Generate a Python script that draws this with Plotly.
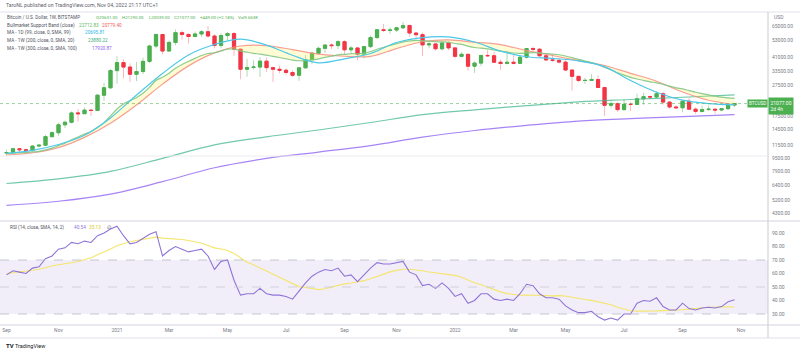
import plotly.graph_objects as go
import pandas as pd
import math

W, H = 800, 353
PW = 768  # plot area width (right price scale outside)

week0 = pd.Timestamp('2020-09-07')
N = 113
dates = [week0 + pd.Timedelta(days=7 * i) for i in range(N)]

opens = [10280,10330,10930,10780,10670,11370,11500,13030,13800,15480,
         16060,18400,18180,19150,19050,23800,26500,34000,38200,35800,
         32250,33550,38900,48600,57400,45200,51200,59000,57500,55800,
         57900,59800,56200,49000,56600,58200,46400,34700,35600,35800,
         39000,35500,34700,34200,33100,31800,35400,39900,43800,47000,
         49300,48900,51750,46000,47250,43200,48200,54950,61550,60900,
         61300,63300,65500,58700,57300,49400,50100,46700,50800,47300,
         41830,43080,36280,37920,42400,42200,38400,37700,38400,37800,
         41300,46850,46400,42150,39700,39450,38470,34300,31300,29450,
         29500,29900,26600,20550,21030,19300,20850,20800,22580,23300,
         23180,24300,21530,20050,19830,21800,19420,18800,19310,19420,
         19190,19560,20631]
highs = [10790,11100,10990,10960,11490,11720,13350,14100,15960,16480,
         18800,19500,19900,19420,24200,28400,34800,41900,40100,37800,
         38600,41000,49700,58300,57500,52600,61800,61000,58400,60000,
         61200,64900,57600,58400,59500,59600,46600,40400,39500,41300,
         41100,36000,36600,35100,34100,35400,42600,44700,48100,49500,
         50500,52900,52900,48800,47400,48500,56600,62000,67000,63700,
         64300,69000,66300,59300,59100,51900,50600,51900,52100,47550,
         44450,43500,38900,42600,45800,44700,40000,45400,42600,42300,
         47000,48200,47100,42400,42950,40800,40000,34300,31400,30600,
         32300,31700,26700,21900,21600,22500,21600,24300,24700,23650,
         25200,25000,21900,20550,21850,22800,19950,20400,20470,19500,
         19700,21000,21290]
lows = [9880,10200,10140,10380,10530,11200,11410,12900,13200,14800,
        15800,16200,18100,17600,19000,21900,26000,28100,30400,28850,
        29200,32300,37900,47000,43000,44900,49200,53300,50400,55400,
        55500,55000,47000,47000,53000,42100,30000,31100,34500,31000,
        33300,28800,32700,32100,31000,29300,35200,37500,43000,43900,
        46400,46500,42800,43400,39600,40700,47100,53900,59600,58000,
        59400,62300,55600,53500,42000,47000,45500,45600,45700,40600,
        41250,34000,32900,36300,41700,38000,34300,37200,37200,37600,
        40500,45200,42000,39200,38600,37700,33700,25400,28700,28000,
        29300,26500,17600,19700,18700,19000,18900,20750,20700,22400,
        22700,20800,19550,19600,18550,19300,18150,18500,19000,18200,
        18900,19200,20039]
closes = [10330,10930,10780,10670,11370,11500,13030,13800,15480,16060,
          18400,18180,19150,19050,23800,26500,34000,38200,35800,32250,
          33550,38900,48600,57400,45200,51200,59000,57500,55800,57900,
          59800,56200,49000,56600,58200,46400,34700,35600,35800,39000,
          35500,34700,34200,33100,31800,35400,39900,43800,47000,49300,
          48900,51750,46000,47250,43200,48200,54950,61550,60900,61300,
          63300,65500,58700,57300,49400,50100,46700,50800,47300,41830,
          43080,36280,37920,42400,42200,38400,37700,38400,37800,41300,
          46850,46400,42150,39700,39450,38470,34300,31300,29450,29500,
          29900,26600,20550,21030,19300,20850,20800,22580,23300,23180,
          24300,21530,20050,19830,21800,19420,18800,19310,19420,19190,
          19560,20631,21077]

# Bull market support band: 21W EMA (weekly) and 20W SMA (every 4th week)
ema21w = [10200,10266,10313,10345,10438,10535,10762,11038,11442,11862,
          12456,12976,13537,14038,14925,15977,17615,19486,20969,21994,
          23044,24485,26677,29470,30900,32745,35132,37165,38859,40590,
          42336,43596,44087,45224,46404,46404,45340,44455,43668,43244,
          42540,41827,41134,40404,39622,39238,39298,39707,40370,41182,
          41884,42781,43074,43454,43431,43865,44873,46389,47744,48976,
          50278,51662,52302,52756,52451,52237,51734,51649,51254,50397,
          49732,48509,47546,47078,46635,45886,45142,44529,43917,43679,
          43967,44188,44003,43612,43234,42801,42028,41053,39998,39044,
          38213,37157,35647,34318,32953,31853,30848,30096,29478,28905,
          28486,27854,27145,26480,26055,25452,24847,24344,23896,23468,
          23113,22887,22713]
sma20w_4 = [9960,10320,11120,12890,15830,20620,27940,36430,43980,48610,
            48920,46100,43230,41880,41770,46850,51700,53140,51300,49650,
            45500,42340,39270,36640,32700,29160,24930,22100,20779]
ma99d_4 = [10232,10674,11629,13301,17099,23854,32656,42707,49693,53704,
           49268,42486,38036,40375,43584,51150,54961,55455,51514,45136,
           41585,40626,39146,36039,29420,24831,22125,21079,20696]
ma200w_8 = [6600,7060,7870,9500,11550,13000,14350,16000,17950,19250,
            20450,21600,22350,23100,23880]
ma300w_8 = [4800,5100,5660,6780,8300,9500,10420,11450,12950,14250,
            15350,16350,16950,17450,17920]

rsi = [59,62,61,60,64,65,71,73,78,79,83,82,84,83,88,90,93,95,88,82,
       83,86,89,91,73,77,80,78,76,77,78,73,63,69,70,55,44,45,45,49,
       45,44,44,43,41,47,53,58,61,63,62,64,58,59,54,59,64,68,67,67,
       68,69,61,59,51,52,49,53,49,43,45,38,40,45,45,41,40,41,40,45,
       52,51,45,42,42,41,36,33,31,31,32,28,25.5,27,25.5,30,30,38,40,39.5,
       42,35.5,33,33,38,34,33,34.5,35,34.5,35.5,39,40.54]
rsi_ma = [60.0,60.5,61.0,61.5,62.4,63.2,64.6,65.6,66.5,67.1,68.0,68.9,70.1,71.7,
          73.8,75.8,78.1,80.6,82.3,83.5,84.4,85.3,86.1,86.9,86.2,85.9,85.6,85.2,
          84.4,83.4,82.4,80.8,79.0,78.1,77.1,74.9,71.7,68.4,66.4,64.4,61.9,59.5,
          57.2,54.8,52.1,50.3,49.6,48.8,48.1,48.7,50.0,51.4,52.3,53.0,53.6,54.7,
          56.1,57.9,59.8,61.2,62.3,63.1,63.1,62.8,62.0,61.1,60.5,60.1,59.7,58.6,
          57.2,55.1,53.1,51.6,49.9,47.9,46.4,45.1,44.4,43.9,44.1,43.9,43.6,43.6,
          43.4,43.6,43.3,42.4,41.4,40.7,40.1,39.2,38.2,36.9,35.0,33.5,32.4,32.1,
          32.0,31.9,32.3,32.5,32.6,32.8,33.2,33.6,34.2,34.7,35.0,35.2,35.4,35.3,35.13]

price_ticks = [65000, 53000, 41000, 33500, 27500, 17500, 14500, 11500, 9500, 7900, 6400, 5200, 4300]
rsi_ticks = [90, 80, 70, 60, 50, 40, 30]
month_ticks = ['2020-09-07', '2020-11-02', '2021-01-04', '2021-03-01', '2021-05-03', '2021-07-05',
               '2021-09-06', '2021-11-01', '2022-01-03', '2022-03-07', '2022-05-02', '2022-07-04',
               '2022-09-05', '2022-11-07']
month_text = ['Sep', 'Nov', '2021', 'Mar', 'May', 'Jul', 'Sep', 'Nov', '2022', 'Mar', 'May', 'Jul', 'Sep', 'Nov']

assert len(opens) == len(highs) == len(lows) == len(closes) == len(ema21w) == len(rsi) == len(rsi_ma) == N

dates4 = dates[::4]
dates8 = dates[::8]

GREEN = '#4CAF50'
RED = '#F23645'
FONT = 'Roboto'
GRAY = '#787b86'
TXT = '#50535e'

fig = go.Figure()

# wicks (light)
fig.add_trace(go.Candlestick(
    x=dates, open=opens, high=highs, low=lows, close=closes,
    increasing=dict(line=dict(color='rgba(76,175,80,0.45)', width=1), fillcolor='rgba(76,175,80,0.45)'),
    decreasing=dict(line=dict(color='rgba(242,54,69,0.35)', width=1), fillcolor='rgba(242,54,69,0.35)'),
    whiskerwidth=0, showlegend=False, hoverinfo='skip', xaxis='x', yaxis='y'))
# bodies
body_hi = [max(o, c) for o, c in zip(opens, closes)]
body_lo = [min(o, c) for o, c in zip(opens, closes)]
fig.add_trace(go.Candlestick(
    x=dates, open=opens, high=body_hi, low=body_lo, close=closes,
    increasing=dict(line=dict(color=GREEN, width=1), fillcolor=GREEN),
    decreasing=dict(line=dict(color=RED, width=1), fillcolor=RED),
    whiskerwidth=0, showlegend=False, hoverinfo='skip', xaxis='x', yaxis='y'))

# long MAs
fig.add_trace(go.Scatter(x=dates8, y=ma200w_8, mode='lines', line=dict(color='rgba(67,183,140,0.75)', width=1.2, shape='spline'),
                         showlegend=False, hoverinfo='skip'))
fig.add_trace(go.Scatter(x=dates8, y=ma300w_8, mode='lines', line=dict(color='#a784f5', width=1.2, shape='spline'),
                         showlegend=False, hoverinfo='skip'))
# bull market support band
fig.add_trace(go.Scatter(x=dates4, y=sma20w_4, mode='lines', line=dict(color='rgba(244,143,130,0.85)', width=1.2, shape='spline'),
                         showlegend=False, hoverinfo='skip'))
fig.add_trace(go.Scatter(x=dates, y=ema21w, mode='lines', line=dict(color='rgba(129,199,132,0.9)', width=1.2, shape='spline'),
                         fill='tonexty', fillcolor='rgba(255,235,59,0.22)', showlegend=False, hoverinfo='skip'))
# 99D MA
fig.add_trace(go.Scatter(x=dates4, y=ma99d_4, mode='lines', line=dict(color='#4cc8e8', width=1.2, shape='spline'),
                         showlegend=False, hoverinfo='skip'))

# last price line
fig.add_trace(go.Scatter(x=[pd.Timestamp('2020-08-31'), pd.Timestamp('2022-12-06')], y=[closes[-1], closes[-1]],
                         mode='lines', line=dict(color='rgba(76,175,80,0.55)', width=1, dash='dot'),
                         showlegend=False, hoverinfo='skip'))

# RSI
fig.add_trace(go.Scatter(x=dates, y=rsi_ma, mode='lines', line=dict(color='#f5e56b', width=1.1),
                         xaxis='x', yaxis='y2', showlegend=False, hoverinfo='skip'))
fig.add_trace(go.Scatter(x=dates, y=rsi, mode='lines', line=dict(color='#8f74d6', width=1.1),
                         xaxis='x', yaxis='y2', showlegend=False, hoverinfo='skip'))

def py(y):  # pixel row -> paper y
    return 1 - y / H

def px(x):  # pixel col -> paper x
    return x / PW

main_dom = [py(221), py(12)]
rsi_dom = [py(325), py(221)]

k = (math.log10(65000) - math.log10(4300)) / (213 - 26)
ytop = math.log10(65000) + (26 - 12) * k
ybot = math.log10(4300) - (221 - 213) * k

rk = 1.35
r_top = 90 + (233 - 221) / rk
r_bot = 30 - (325 - 314) / rk

fig.update_layout(
    width=W, height=H, margin=dict(l=0, r=W - PW, t=0, b=0),
    paper_bgcolor='white', plot_bgcolor='white',
    font=dict(family=FONT, size=5, color=GRAY),
    showlegend=False,
    xaxis=dict(domain=[0, 1], anchor='y2', type='date',
               range=['2020-08-31', '2022-12-06'],
               rangeslider=dict(visible=False),
               tickmode='array', tickvals=month_ticks, ticktext=month_text,
               showgrid=False, zeroline=False, showline=False, ticks='',
               tickfont=dict(size=5, color=GRAY, family=FONT), ticklabelstandoff=1),
    yaxis=dict(domain=main_dom, type='log', range=[ybot, ytop], side='right', anchor='x',
               tickmode='array', tickvals=price_ticks, ticktext=[f'{v:.2f}' for v in price_ticks],
               showgrid=False, zeroline=False, showline=False, ticks='',
               tickfont=dict(size=5, color=GRAY, family=FONT), ticklabelstandoff=3),
    yaxis2=dict(domain=rsi_dom, range=[r_bot, r_top], side='right', anchor='x',
                tickmode='array', tickvals=rsi_ticks, ticktext=[f'{v:.2f}' for v in rsi_ticks],
                showgrid=False, zeroline=False, showline=False, ticks='',
                tickfont=dict(size=5, color=GRAY, family=FONT), ticklabelstandoff=3),
)

LINE = '#e0e3eb'
shapes = [
    # RSI band
    dict(type='rect', xref='paper', yref='y2', x0=0, x1=1, y0=30, y1=70,
         fillcolor='rgba(126,87,194,0.10)', line=dict(width=0), layer='below'),
    dict(type='line', xref='paper', yref='y2', x0=0, x1=1, y0=70, y1=70, line=dict(color='#b8bac4', width=0.8, dash='dash')),
    dict(type='line', xref='paper', yref='y2', x0=0, x1=1, y0=50, y1=50, line=dict(color='#c8cad2', width=0.8, dash='dash')),
    dict(type='line', xref='paper', yref='y2', x0=0, x1=1, y0=30, y1=30, line=dict(color='#b8bac4', width=0.8, dash='dash')),
    # frame lines
    dict(type='line', xref='paper', yref='paper', x0=0, x1=W / PW, y0=py(12), y1=py(12), line=dict(color=LINE, width=1)),
    dict(type='line', xref='paper', yref='paper', x0=0, x1=W / PW, y0=py(221), y1=py(221), line=dict(color=LINE, width=1.5)),
    dict(type='line', xref='paper', yref='paper', x0=0, x1=W / PW, y0=py(325), y1=py(325), line=dict(color=LINE, width=1.5)),
    dict(type='line', xref='paper', yref='paper', x0=0, x1=W / PW, y0=py(338), y1=py(338), line=dict(color=LINE, width=1)),
    dict(type='line', xref='paper', yref='paper', x0=1, x1=1, y0=py(338), y1=py(12), line=dict(color='#c9cbd1', width=1)),
    dict(type='line', xref='paper', yref='paper', x0=0, x1=1, y0=py(156), y1=py(156), line=dict(color='#ececf0', width=1)),
]
fig.update_layout(shapes=shapes)

ann = []
def text(x, y, s, color=TXT, size=4.7, anchor='left', **kw):
    ann.append(dict(x=px(x), y=py(y), xref='paper', yref='paper', text=s, showarrow=False,
                    xanchor=anchor, yanchor='middle', font=dict(family=FONT, size=size, color=color), **kw))

text(4, 5.5, 'TaroNL published on TradingView.com, Nov 04, 2022 21:17 UTC+1', color='#5d606b', size=5.2)
text(5, 17.5, 'Bitcoin / U.S. Dollar, 1W, BITSTAMP')
for xx, s in [(94, 'O20631.00'), (120, 'H21290.00'), (147, 'L20039.00'), (172, 'C21077.00'),
              (198, '+449.00 (+2.18%)'), (236, 'Vol9.653K')]:
    text(xx, 17.5, s, color=GREEN, size=4.4)
text(5, 25.2, 'Bullmarket Support Band (close)')
text(77, 25.2, '22712.83', color='#5cb85f')
text(100, 25.2, '20779.40', color='#f0605a')
text(5, 32.8, 'MA - 1D (99, close, 0, SMA, 99)')
text(83, 32.8, '20695.81', color='#29b6e6')
text(5, 40.4, 'MA - 1W (200, close, 0, SMA, 20)')
text(86, 40.4, '23880.22', color='#3fae7e')
text(5, 48.2, 'MA - 1W (300, close, 0, SMA, 100)')
text(90, 48.2, '17920.87', color='#8c5ff0')

text(8, 227.8, 'RSI (14, close, SMA, 14, 2)')
text(72, 227.8, '40.54', color='#8f74d6')
text(87, 227.8, '35.13', color='#d9c531')
text(105, 227.8, '∅', color=TXT)

# axis extras
text(772, 17, 'USD', color=GRAY, size=5)
ann.append(dict(x=px(768), y=math.log10(closes[-1]), xref='paper', yref='y', text='21077.00<br>2d 4h',
                showarrow=False, xanchor='left', yanchor='middle', align='left', yshift=-2,
                bgcolor=GREEN, borderpad=1.5, font=dict(family=FONT, size=5, color='white')))
ann.append(dict(x=px(747), y=math.log10(closes[-1]), xref='paper', yref='y', text='BTCUSD',
                showarrow=False, xanchor='left', yanchor='middle', bgcolor=GREEN, borderpad=1,
                font=dict(family=FONT, size=4.6, color='white')))

# logo
text(4, 345.5, '<b>TV</b>', color='#131722', size=6)
text(13, 345.5, 'TradingView', color='#131722', size=5.5)

fig.update_layout(annotations=ann)
fig.write_html('out.html')
